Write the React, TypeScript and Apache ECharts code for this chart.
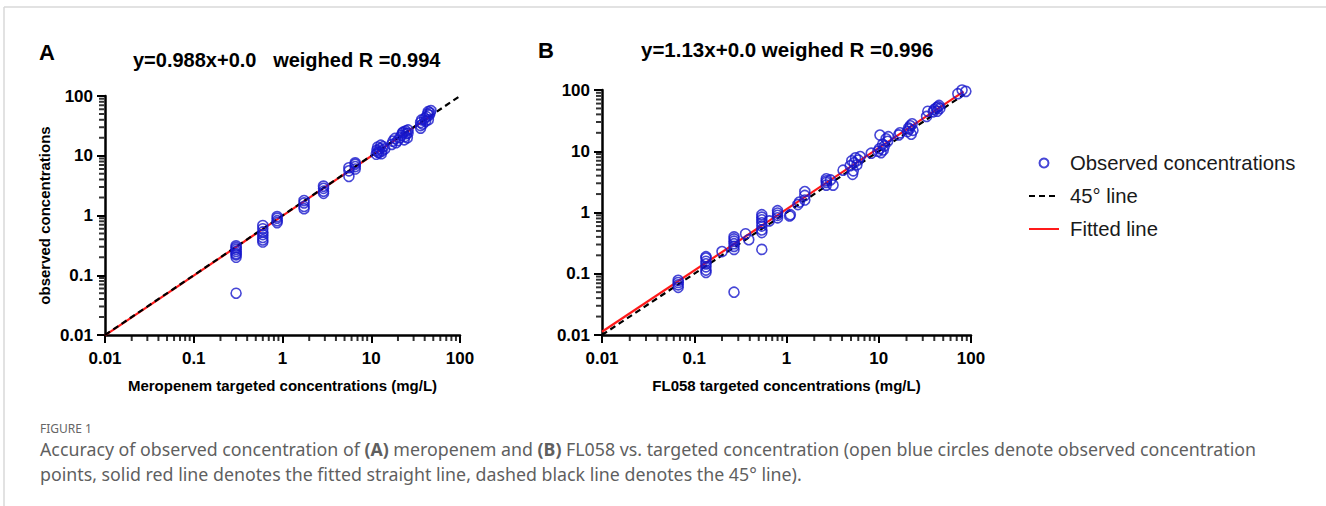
import React, { useEffect, useRef } from 'react';
import * as echarts from 'echarts';

// ---------- data ----------
const tickValues = [0.01, 0.1, 1, 10, 100];
const tickLabels = ['0.01', '0.1', '1', '10', '100'];
const minorDecades = [0.01, 0.1, 1, 10];
const minorMultipliers = [2, 3, 4, 5, 6, 7, 8, 9];

const seriesNames = ['Observed concentrations', '45° line', 'Fitted line'];
const titleA = 'y=0.988x+0.0   weighed R =0.994';
const titleB = 'y=1.13x+0.0 weighed R =0.996';
const xNameA = 'Meropenem targeted concentrations (mg/L)';
const xNameB = 'FL058 targeted concentrations (mg/L)';
const yNameA = 'observed concentrations';

// Panel A (meropenem)
const meropenemTargeted = [
  0.3, 0.3, 0.3, 0.3, 0.3, 0.3, 0.3, 0.3,
  0.6, 0.6, 0.6, 0.6, 0.6, 0.6, 0.6,
  0.87, 0.87, 0.87, 0.87,
  1.75, 1.75, 1.75, 1.75,
  2.9, 2.9, 2.9, 2.9,
  5.6, 5.6, 5.6,
  6.6, 6.6, 6.6, 6.6,
  11.4, 11.6, 11.8, 12.2, 12.5, 12.8, 13.2, 13.6, 11.9, 13.0, 14.2,
  17, 17.5, 18.5, 19, 20, 21, 22, 22.5, 23, 23.5, 24, 24.5, 25, 25.5, 26, 26,
  36, 36, 36, 37, 38, 40, 41, 42, 43, 44, 44, 45, 46, 47,
];
const meropenemObserved = [
  0.20, 0.22, 0.23, 0.25, 0.27, 0.29, 0.31, 0.05,
  0.36, 0.39, 0.43, 0.48, 0.53, 0.60, 0.68,
  0.76, 0.82, 0.90, 0.96,
  1.30, 1.42, 1.62, 1.78,
  2.35, 2.55, 2.85, 3.1,
  4.5, 5.6, 6.3,
  6.0, 6.6, 7.2, 7.6,
  10.6, 12.4, 14.0, 11.2, 13.2, 15.0, 12.0, 14.2, 11.6, 10.8, 13.0,
  15.5, 17.5, 19.5, 16.5, 18, 20, 22, 24, 25, 18.5, 21, 26, 23.5, 20, 24, 27,
  29, 32, 36, 40, 34, 42, 38, 45, 50, 40, 55, 48, 52, 57,
];

// Panel B (FL058)
const fl058Targeted = [
  0.067, 0.067, 0.067, 0.067,
  0.134, 0.134, 0.134, 0.134, 0.134, 0.134, 0.134,
  0.2,
  0.27, 0.27, 0.27, 0.27, 0.27, 0.27, 0.27,
  0.36, 0.39,
  0.54, 0.54, 0.54, 0.54, 0.54, 0.54, 0.54, 0.54,
  0.65,
  0.8, 0.8, 0.8, 0.8,
  1.08, 1.1,
  1.33, 1.38,
  1.58, 1.58, 1.58,
  2.7, 2.7, 2.7, 2.7,
  3.0, 3.2,
  4.1,
  4.9, 5.1, 5.2, 5.3, 5.4, 5.6, 5.8, 6.0, 6.3,
  8.3,
  9.8, 10.2, 10.3, 10.6, 11.0, 11.2, 11.5, 12.0, 12.5, 12.7,
  16.5, 17,
  20.5, 21, 21.5, 22, 22.5, 23, 23.5,
  33, 34,
  39, 40, 42, 43, 44, 45, 46,
  72, 80, 88,
];
const fl058Observed = [
  0.060, 0.066, 0.072, 0.078,
  0.105, 0.115, 0.13, 0.145, 0.16, 0.18, 0.19,
  0.23,
  0.05, 0.25, 0.28, 0.31, 0.34, 0.37, 0.40,
  0.45, 0.36,
  0.25, 0.47, 0.52, 0.6, 0.68, 0.76, 0.84, 0.92,
  0.73,
  0.82, 0.9, 0.98, 1.07,
  0.88, 0.92,
  1.35, 1.48,
  1.6, 1.9, 2.2,
  2.8, 3.1, 3.3, 3.55,
  3.4, 2.8,
  4.9,
  5.8, 7.0, 4.2, 4.8, 6.5, 7.8, 6.0, 7.2, 8.2,
  9.3,
  10.0, 11.0, 18.4, 9.5, 13.0, 10.5, 12.2, 16.0, 14.5, 17.3,
  18.5, 20,
  21, 24, 23, 26, 19, 28, 22,
  37, 45,
  44, 48, 51, 45, 53, 56, 50,
  87, 100, 95,
];

// Reference lines: [x, y] end points
const identityA = [[0.01, 0.01], [100, 100]];
const fittedA = [[0.01, 0.00988], [45, 44.46]];
const identityB = [[0.01, 0.01], [85, 85]];
const fittedB = [[0.01, 0.0113], [83, 93.8]];

// ---------- styles ----------
const FONT = '"Liberation Sans", Arial, sans-serif';
const BLUE = '#1818cc';
const RED = '#ff1a1a';

const zip = (xs: number[], ys: number[]) => xs.map((x, i) => [x, ys[i]]);

const minorValues = () => {
  const out: number[] = [];
  minorDecades.forEach((d) => minorMultipliers.forEach((m) => out.push(+(d * m).toPrecision(6))));
  return out;
};

const labelFormatter = (val: number) => {
  const i = tickValues.findIndex((t) => Math.abs(Math.log10(t) - Math.log10(val)) < 1e-6);
  return i >= 0 ? tickLabels[i] : '';
};

const makeAxis = (name: string, isX: boolean, gridIndex: number) => ({
  type: 'log',
  logBase: 10,
  gridIndex,
  min: 0.01,
  max: 100,
  name,
  nameLocation: 'middle',
  nameGap: isX ? 43 : 53,
  nameTextStyle: { fontFamily: FONT, fontWeight: 'bold', fontSize: 15, color: '#000' },
  axisLine: { show: true, onZero: false, lineStyle: { color: '#000', width: 2.5 } },
  axisTick: { show: true, inside: false, length: 8, lineStyle: { color: '#000', width: 2 } },
  axisLabel: {
    margin: isX ? 15 : 12,
    fontFamily: FONT,
    fontWeight: 'bold',
    fontSize: 17,
    color: '#000',
    formatter: labelFormatter,
  },
  splitLine: { show: false },
  minorTick: { show: false },
});

// minor ticks drawn as small rect symbols placed on the axes through the axis scales
const minorTickSeries = (gridIndex: number, isY: boolean) => ({
  type: 'scatter',
  xAxisIndex: gridIndex,
  yAxisIndex: gridIndex,
  silent: true,
  clip: false,
  z: 1,
  symbol: 'rect',
  symbolSize: isY ? [5, 2] : [2, 5],
  symbolOffset: isY ? [-3.5, 0] : [0, 3.5],
  itemStyle: { color: '#000' },
  data: minorValues().map((v) => (isY ? [0.01, v] : [v, 0.01])),
});

const scatterSeries = (data: number[][], gridIndex: number) => ({
  name: seriesNames[0],
  type: 'scatter',
  xAxisIndex: gridIndex,
  yAxisIndex: gridIndex,
  symbol: 'circle',
  symbolSize: 10,
  z: 4,
  itemStyle: { color: 'rgba(0,0,0,0)', borderColor: BLUE, borderWidth: 1.6 },
  data,
});

const lineSeries = (name: string, data: number[][], gridIndex: number, dashed: boolean) => ({
  name,
  type: 'line',
  xAxisIndex: gridIndex,
  yAxisIndex: gridIndex,
  symbol: 'none',
  z: dashed ? 3 : 2,
  itemStyle: { color: 'rgba(0,0,0,0)', borderWidth: 0 },
  lineStyle: dashed
    ? { color: '#000', width: 2.2, type: [6, 4] }
    : { color: RED, width: 2.2, type: 'solid' },
  data,
});

const captionLine1 =
  '{n|Accuracy of observed concentration of }{b|(A)}{n| meropenem and }{b|(B)}{n| FL058 vs. targeted concentration (open blue circles denote observed concentration}';
const captionLine2 =
  '{n|points, solid red line denotes the fitted straight line, dashed black line denotes the 45° line).}';

export default function App() {
  const ref = useRef<HTMLDivElement>(null);
  useEffect(() => {
    if (!ref.current) return;
    const chart = echarts.init(ref.current, undefined, { renderer: 'svg' });
    const capStyle = { fontFamily: '"Noto Sans", "Open Sans", sans-serif', fontSize: 17.8, fill: '#5f5f5f', color: '#5f5f5f' };
    chart.setOption({
      animation: false,
      backgroundColor: '#fff',
      grid: [
        { left: 105, top: 96, width: 355, height: 239, containLabel: false, outerBoundsMode: 'none' },
        { left: 602, top: 90, width: 369, height: 245, containLabel: false, outerBoundsMode: 'none' },
      ],
      xAxis: [makeAxis(xNameA, true, 0), makeAxis(xNameB, true, 1)],
      yAxis: [makeAxis(yNameA, false, 0), makeAxis('', false, 1)],
      legend: {
        orient: 'vertical',
        left: 1028,
        top: 153,
        padding: 0,
        itemWidth: 30,
        itemHeight: 9,
        itemGap: 13,
        data: seriesNames,
        selectedMode: false,
        textStyle: { fontFamily: FONT, fontSize: 20.3, color: '#1a1a1a', lineHeight: 20, padding: [0, 0, 0, 6] },
      },
      series: [
        minorTickSeries(0, false),
        minorTickSeries(0, true),
        minorTickSeries(1, false),
        minorTickSeries(1, true),
        lineSeries(seriesNames[2], fittedA, 0, false),
        lineSeries(seriesNames[1], identityA, 0, true),
        scatterSeries(zip(meropenemTargeted, meropenemObserved), 0),
        lineSeries(seriesNames[2], fittedB, 1, false),
        lineSeries(seriesNames[1], identityB, 1, true),
        scatterSeries(zip(fl058Targeted, fl058Observed), 1),
      ],
      graphic: [
        { type: 'line', shape: { x1: 4, y1: 7, x2: 1326, y2: 7 }, style: { stroke: '#d9d9d9', lineWidth: 1.5 } },
        { type: 'line', shape: { x1: 4, y1: 7, x2: 4, y2: 506 }, style: { stroke: '#d9d9d9', lineWidth: 1.5 } },
        { type: 'text', x: 39, y: 52, style: { text: 'A', fontFamily: FONT, fontWeight: 'bold', fontSize: 22, fill: '#000', verticalAlign: 'middle' } },
        { type: 'text', x: 538, y: 50, style: { text: 'B', fontFamily: FONT, fontWeight: 'bold', fontSize: 22, fill: '#000', verticalAlign: 'middle' } },
        { type: 'text', x: 133, y: 60, style: { text: titleA, fontFamily: FONT, fontWeight: 'bold', fontSize: 20, fill: '#000', verticalAlign: 'middle' } },
        { type: 'text', x: 641, y: 49, style: { text: titleB, fontFamily: FONT, fontWeight: 'bold', fontSize: 20.5, fill: '#000', verticalAlign: 'middle' } },
        { type: 'text', x: 40, y: 428, style: { text: 'FIGURE 1', fontFamily: '"Noto Sans", sans-serif', fontSize: 12, fill: '#666', verticalAlign: 'middle' } },
        {
          type: 'text',
          x: 40,
          y: 436,
          style: {
            text: captionLine1 + '\n' + captionLine2,
            verticalAlign: 'top',
            lineHeight: 25,
            ...capStyle,
            rich: {
              n: { ...capStyle, lineHeight: 25 },
              b: { ...capStyle, fontWeight: 'bold', lineHeight: 25 },
            },
          },
        },
      ],
    });
    return () => chart.dispose();
  }, []);
  return (
    <div
      ref={ref}
      style={{ position: 'fixed', left: 0, top: 0, width: 1326, height: 506, background: '#fff' }}
    />
  );
}
